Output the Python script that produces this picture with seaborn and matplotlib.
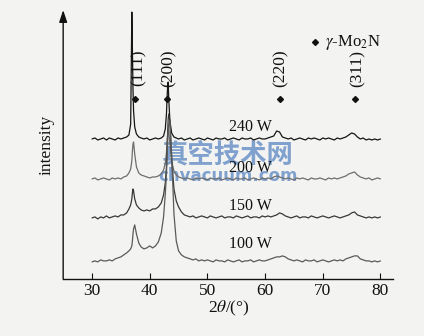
import numpy as np
import pandas as pd
import matplotlib
matplotlib.use("Agg")
import matplotlib.pyplot as plt
import seaborn as sns

# ---------------- data ----------------
two_theta = [30, 30.5, 31, 31.5, 32, 32.5, 33, 33.5, 34, 34.5, 35, 35.5, 36,
             36.4, 36.7, 36.9, 37.0, 37.1, 37.2, 37.4, 37.7, 38.1, 38.5,
             39, 39.5, 40, 40.5, 41, 41.5, 42, 42.4,
             42.7, 42.9, 43.0, 43.1, 43.2, 43.3, 43.5, 43.8, 44.2, 44.6,
             45, 45.5, 46, 46.5, 47, 47.5, 48, 48.5, 49, 49.5,
             50, 50.5, 51, 51.5, 52, 52.5, 53, 53.5, 54, 54.5,
             55, 55.5, 56, 56.5, 57, 57.5, 58, 58.5, 59, 59.5,
             60, 60.5, 61, 61.5, 62, 62.5, 63, 63.5, 64, 64.5,
             65, 65.5, 66, 66.5, 67, 67.5, 68, 68.5, 69, 69.5,
             70, 70.5, 71, 71.5, 72, 72.5, 73, 73.5, 74, 74.5,
             75, 75.5, 76, 76.5, 77, 77.5, 78, 78.5, 79, 79.5, 80]

i_240W = [140, 141, 139, 140, 141, 139, 141, 140, 139, 141, 140, 141, 142,
          144, 155, 267, 230, 190, 168, 152, 145, 142, 141,
          140, 141, 139, 140, 141, 140, 141, 143,
          150, 165, 180, 192, 197, 180, 158, 146, 142, 141,
          140, 141, 139, 140, 141, 139, 140, 141, 140, 139,
          141, 140, 139, 141, 140, 140, 141, 139, 140, 141,
          140, 139, 141, 140, 140, 141, 139, 140, 141, 140,
          140, 141, 142, 143, 148, 147, 142, 141, 140, 141,
          139, 140, 141, 140, 139, 141, 140, 141, 140, 139,
          141, 140, 141, 140, 139, 141, 140, 141, 142, 144,
          146, 145, 142, 140, 141, 139, 140, 139, 140, 139, 140]

i_200W = [100, 101, 99, 100, 101, 100, 99, 101, 100, 101, 100, 102, 103,
          106, 110, 118, 128, 135, 137, 125, 112, 106, 104,
          103, 102, 101, 102, 102, 103, 105, 109,
          116, 126, 136, 144, 150, 148, 135, 118, 108, 104,
          102, 101, 100, 101, 100, 99, 101, 100, 101, 100,
          99, 101, 100, 100, 101, 99, 100, 101, 100, 99,
          101, 100, 100, 101, 99, 100, 101, 100, 99, 101,
          100, 101, 100, 102, 103, 102, 101, 100, 101, 100,
          99, 101, 100, 101, 100, 99, 101, 100, 100, 101,
          100, 99, 101, 100, 101, 100, 101, 102, 103, 105,
          106, 107, 104, 102, 101, 100, 101, 99, 100, 101, 100]

i_150W = [61, 62, 60, 62, 61, 63, 61, 62, 63, 62, 64, 64, 66,
          70, 74, 80, 86, 90, 88, 80, 74, 71, 69,
          68, 69, 68, 70, 70, 72, 76, 84,
          96, 112, 128, 145, 160, 165, 158, 120, 90, 78,
          72, 67, 64, 63, 62, 63, 61, 62, 63, 62,
          61, 63, 62, 61, 62, 63, 61, 62, 62, 61,
          63, 62, 61, 62, 63, 61, 62, 62, 61, 63,
          62, 63, 62, 63, 64, 66, 65, 63, 62, 61,
          62, 63, 61, 62, 62, 61, 63, 62, 61, 62,
          63, 62, 61, 62, 63, 62, 61, 62, 63, 64,
          66, 67, 64, 63, 62, 61, 62, 61, 62, 61, 62]

i_100W = [17, 18, 17, 19, 18, 18, 19, 18, 20, 21, 22, 24, 26,
          28, 30, 33, 38, 45, 50, 54, 45, 36, 32,
          30, 31, 33, 31, 33, 37, 46, 62,
          85, 105, 120, 135, 148, 155, 158, 125, 65, 38,
          28, 24, 22, 21, 20, 19, 20, 18, 19, 18,
          19, 18, 17, 19, 18, 18, 17, 19, 18, 17,
          18, 19, 17, 18, 18, 19, 17, 18, 19, 18,
          18, 19, 20, 21, 22, 22, 23, 22, 20, 19,
          18, 19, 18, 17, 19, 18, 18, 19, 17, 18,
          19, 18, 17, 18, 19, 18, 19, 18, 20, 21,
          22, 23, 23, 20, 19, 18, 18, 17, 18, 17, 18]

powers = ["240 W", "200 W", "150 W", "100 W"]
series = [i_240W, i_200W, i_150W, i_100W]
line_colors = ["#151515", "#6e6e6e", "#383838", "#5a5a5a"]
label_pos = [(57.5, 152), (57.5, 111), (57.5, 73), (57.5, 35)]

peak_labels = ["(111)", "(200)", "(220)", "(311)"]
peak_x = [37.5, 43.05, 62.5, 75.5]
peak_text_x = [38.0, 43.25, 62.7, 76.0]
xticks = [30, 40, 50, 60, 70, 80]

# ---------------- style ----------------
sns.set_theme(style="white")
plt.rcParams["font.family"] = ["Liberation Serif", "DejaVu Serif"]
plt.rcParams["mathtext.fontset"] = "stix"

fig = plt.figure(figsize=(4.24, 3.36), dpi=100, facecolor="#f3f3f1")
ax = fig.add_axes([0.149, 0.17, 0.779, 0.80])
ax.set_facecolor("#f3f3f1")

df = pd.DataFrame({"two_theta": np.tile(two_theta, len(powers)),
                   "intensity": np.concatenate(series),
                   "power": np.repeat(powers, len(two_theta))})
sns.lineplot(data=df, x="two_theta", y="intensity", hue="power",
             palette=dict(zip(powers, line_colors)), linewidth=0.9,
             legend=False, ax=ax, sort=False, estimator=None)

# watermark present in the reference image (drawn beneath the labels)
ax.text(53.5, 124, "真空技术网", ha="center", va="center", fontsize=19,
        fontweight="bold", color="#4f7fc0", alpha=0.7, zorder=1,
        family=["Noto Sans CJK SC", "DejaVu Sans"])
ax.text(53.5, 103, "chvacuum.com", ha="center", va="center", fontsize=12,
        fontweight="bold", color="#4f7fc0", alpha=0.7, zorder=1,
        family=["DejaVu Sans"])

for p, (lx, ly) in zip(powers, label_pos):
    ax.text(lx, ly, p, ha="center", va="center", fontsize=11.5,
            color="#111111", zorder=3)

for lab, px, tx in zip(peak_labels, peak_x, peak_text_x):
    ax.plot([px], [180], marker="D", markersize=3, color="#111111")
    ax.text(tx, 211, lab, rotation=90, ha="center", va="center",
            fontsize=12.5, color="#111111")

ax.plot([68.6], [237], marker="D", markersize=3, color="#111111")
ax.text(70.3, 237, r"$\gamma$-Mo$_2$N", ha="left", va="center",
        fontsize=12, color="#111111")

ax.set_xlim(25, 82.25)
ax.set_ylim(0, 269)
ax.set_xticks(xticks)
ax.set_xticklabels([str(t) for t in xticks], fontsize=12.5)
ax.set_yticks([])
ax.tick_params(axis="x", direction="in", length=4, width=0.8, pad=3,
               bottom=True, colors="#111111")
for s in ["top", "right", "left"]:
    ax.spines[s].set_visible(False)
ax.spines["bottom"].set_color("#111111")
ax.spines["bottom"].set_linewidth(1.0)
ax.annotate("", xy=(0, 1.0), xytext=(0, 0), xycoords="axes fraction",
            arrowprops=dict(arrowstyle="-|>,head_length=0.6,head_width=0.2",
                            color="#111111", lw=1.0, shrinkA=0, shrinkB=0))

ax.set_xlabel(r"2$\mathit{\theta}$/(°)", fontsize=12.5, labelpad=0, color="#111111")
ax.set_ylabel("intensity", fontsize=12.5, labelpad=6, color="#111111")

fig.savefig("out.png", dpi=100, facecolor=fig.get_facecolor())
